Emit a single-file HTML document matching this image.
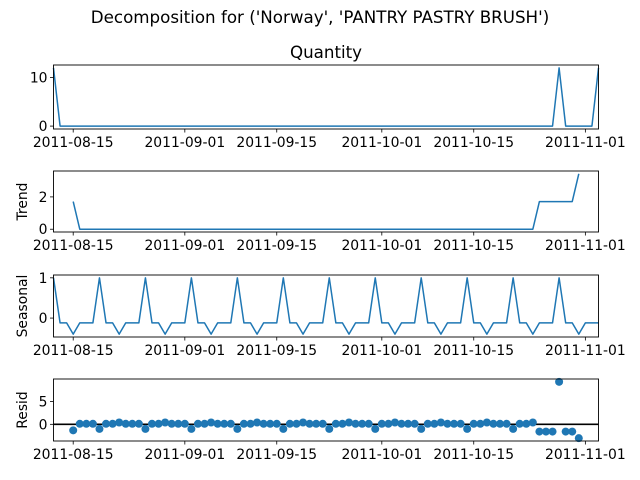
<!DOCTYPE html>
<html><head><meta charset="utf-8"><style>
html,body{margin:0;padding:0;background:#fff;}
svg{display:block;font-family:"DejaVu Sans","Liberation Sans",sans-serif;}
</style></head><body>
<svg id="chart" width="640" height="480" viewBox="0 0 640 480">
<text x="320" y="23" text-anchor="middle" font-size="16.7">Decomposition for ('Norway', 'PANTRY PASTRY BRUSH')</text>
<text x="326" y="58" text-anchor="middle" font-size="16.7">Quantity</text>
</svg>
<script>
// day offsets relative to 2011-08-15 (first point 2011-08-12, last 2011-11-03)
const startDay = -3;
const quantity = [12,0,0,0,0,0,0,0,0,0,0,0,0,0,0,0,0,0,0,0,0,0,0,0,0,0,0,0,0,0,0,0,0,0,0,0,0,0,0,0,0,0,0,0,0,0,0,0,0,0,0,0,0,0,0,0,0,0,0,0,0,0,0,0,0,0,0,0,0,0,0,0,0,0,0,0,0,12,0,0,0,0,0,12];
const seasonalPattern = [1.0,-0.12,-0.12,-0.4,-0.12,-0.12,-0.12];
const trend = [null,null,null,1.71,0,0,0,0,0,0,0,0,0,0,0,0,0,0,0,0,0,0,0,0,0,0,0,0,0,0,0,0,0,0,0,0,0,0,0,0,0,0,0,0,0,0,0,0,0,0,0,0,0,0,0,0,0,0,0,0,0,0,0,0,0,0,0,0,0,0,0,0,0,0,1.71,1.71,1.71,1.71,1.71,1.71,3.43,null,null,null];
const resid = [null,null,null,-1.31,
 0.12,0.12,0.12,-1.0,0.12,0.12,0.4,0.12,0.12,0.12,-1.0,0.12,0.12,0.4,0.12,0.12,0.12,-1.0,0.12,0.12,0.4,0.12,0.12,0.12,-1.0,0.12,0.12,0.4,0.12,0.12,0.12,-1.0,0.12,0.12,0.4,0.12,0.12,0.12,-1.0,0.12,0.12,0.4,0.12,0.12,0.12,-1.0,0.12,0.12,0.4,0.12,0.12,0.12,-1.0,0.12,0.12,0.4,0.12,0.12,0.12,-1.0,0.12,0.12,0.4,0.12,0.12,0.12,-1.0,0.12,0.12,0.4,
 -1.59,-1.59,-1.59,9.29,-1.59,-1.59,-3.03,null,null,null];
const xTickDays = [0,17,31,47,61,78];
const xTickLabels = ["2011-08-15","2011-09-01","2011-09-15","2011-10-01","2011-10-15","2011-11-01"];
const qTicks=[0,10], tTicks=[0,2], sTicks=[0,1], rTicks=[0,5];

const svg=document.getElementById('chart');
const NS='http://www.w3.org/2000/svg';
const X0=53.5, X1=598.5, C='#1f77b4';
const n=quantity.length;
const seasonal=quantity.map((_,i)=>seasonalPattern[i%7]);
const dMin=startDay, dMax=startDay+n-1;
function xs(d){return X0+(d-dMin)/(dMax-dMin)*(X1-X0);}
function mk(tag,attrs,parent){const e=document.createElementNS(NS,tag);for(const k in attrs)e.setAttribute(k,attrs[k]);(parent||svg).appendChild(e);return e;}
function lim(arr){const v=arr.filter(a=>a!==null);let lo=Math.min(...v),hi=Math.max(...v);const m=(hi-lo)*0.05;return [lo-m,hi+m];}

function panel(name,data,top,bot,ticks,ylabel,kind){
  const [lo,hi]=lim(data);
  const ys=v=>bot-(v-lo)/(hi-lo)*(bot-top);
  const g=mk('g',{});
  
  
  if(kind==='line'){
    let d='',pen=false;
    data.forEach((v,i)=>{if(v===null){pen=false;return;}d+=(pen?'L':'M')+xs(startDay+i).toFixed(2)+','+ys(v).toFixed(2);pen=true;});
    const p=mk('path',{d:d,fill:'none',stroke:C,'stroke-width':1.5,'stroke-linejoin':'round'},g);
    
    
  } else {
    const z=mk('line',{x1:X0,x2:X1,y1:ys(0),y2:ys(0),stroke:'#000','stroke-width':1.6},g);
    
    
    data.forEach((v,i)=>{if(v===null)return;
      const c=mk('circle',{cx:xs(startDay+i),cy:ys(v),r:4,fill:C},g);
      
      
    });
  }
  const fr=mk('rect',{x:X0,y:top,width:X1-X0,height:bot-top,fill:'none',stroke:'#000','stroke-width':0.9},g);
  
  
  ticks.forEach(t=>{const y=ys(t);
    mk('line',{x1:X0-3.5,x2:X0,y1:y,y2:y,stroke:'#000','stroke-width':0.8},g);
    const tx=mk('text',{x:X0-6,y:y+5,'text-anchor':'end','font-size':13.9},g);
    tx.textContent=t;
    
    
  });
  xTickDays.forEach((d,k)=>{const x=xs(d);
    mk('line',{x1:x,x2:x,y1:bot,y2:bot+3.5,stroke:'#000','stroke-width':0.8},g);
    const tx=mk('text',{x:x,y:bot+18,'text-anchor':'middle','font-size':13.9},g);
    tx.textContent=xTickLabels[k];
    
    
  });
  if(ylabel){
    const cy=(top+bot)/2;
    const t=mk('text',{x:27,y:cy,'text-anchor':'middle','font-size':13.9,transform:'rotate(-90 27 '+cy+')'},g);
    t.textContent=ylabel;
    
    
  }
}
panel('quantity',quantity,65,129,qTicks,null,'line');
panel('trend',trend,171,232,tTicks,'Trend','line');
panel('seasonal',seasonal,275,337,sTicks,'Seasonal','line');
panel('resid',resid,379,441,rTicks,'Resid','dots');
</script>
</body></html>
